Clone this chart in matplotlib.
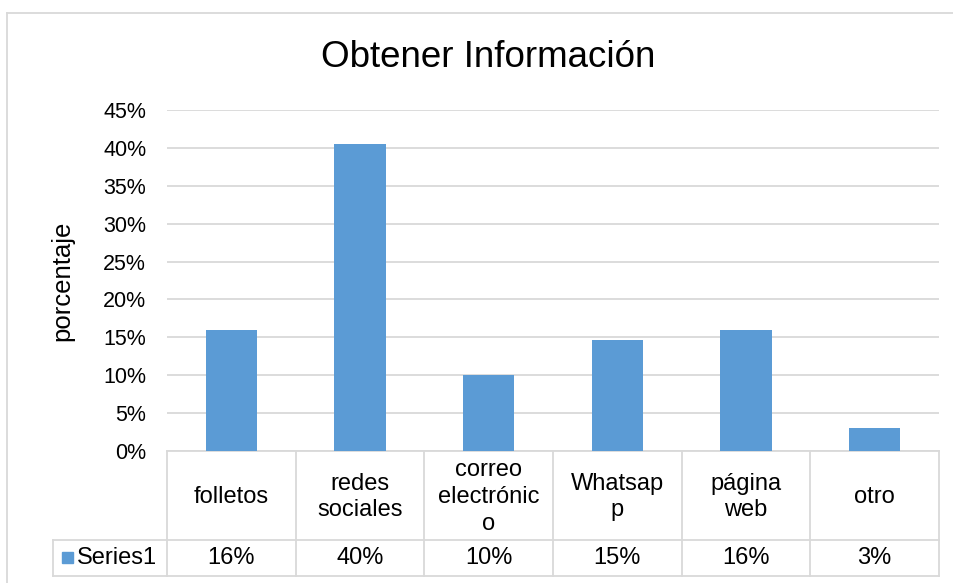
import matplotlib.pyplot as plt
from matplotlib.lines import Line2D
from matplotlib.patches import Rectangle
import matplotlib.transforms as mtransforms

plt.rcParams["font.family"] = ["Liberation Sans", "DejaVu Sans"]

# --- data ---
categorias = ["folletos", "redes\nsociales", "correo\nelectrónic\no",
              "Whatsap\np", "página\nweb", "otro"]
valores = [0.16, 0.405, 0.10, 0.146, 0.16, 0.03]
serie = "Series1"
titulo = "Obtener Información"
ylabel = "porcentaje"
yticks = [0, 0.05, 0.10, 0.15, 0.20, 0.25, 0.30, 0.35, 0.40, 0.45]

W, H = 954, 583
BLUE = "#5B9BD5"
GRID = "#D9D9D9"


def fx(px):
    return px / W


def fy(py):
    return 1 - py / H


fig = plt.figure(figsize=(W / 100, H / 100), dpi=100)
ax = fig.add_axes([fx(167), fy(451), fx(939) - fx(167), fy(110) - fy(451)])

n = len(categorias)
xs = list(range(n))
ax.bar(xs, valores, width=0.4, color=BLUE, zorder=3)
ax.set_xlim(-0.5, n - 0.5)
ax.set_ylim(0, 0.45)
ax.set_yticks(yticks)
ax.set_yticklabels([f"{round(t * 100)}%" for t in yticks], fontsize=15.5)
ax.set_xticks([])
ax.tick_params(axis="y", length=0, pad=15)
ax.grid(axis="y", color=GRID, linewidth=1.3, zorder=0)
for s in ["top", "right", "left"]:
    ax.spines[s].set_visible(False)
ax.spines["bottom"].set_color(GRID)
ax.spines["bottom"].set_linewidth(1.3)

fig.text(fx(62), fy(281), ylabel, rotation=90, fontsize=18.5,
         ha="center", va="center")
fig.text(fx(488), fy(67), titulo, fontsize=26.5, ha="center", va="baseline")

# --- data table under the axis ---
tr = mtransforms.blended_transform_factory(ax.transData, fig.transFigure)
y_top, y_mid, y_bot = fy(451), fy(540), fy(576)
for i in range(n + 1):
    fig.add_artist(Line2D([i - 0.5, i - 0.5], [y_top, y_bot], transform=tr,
                          color=GRID, lw=1.3))
for yy in (y_mid, y_bot):
    fig.add_artist(Line2D([fx(53), fx(939)], [yy, yy],
                          transform=fig.transFigure, color=GRID, lw=1.3))
fig.add_artist(Line2D([fx(53), fx(53)], [y_mid, y_bot],
                      transform=fig.transFigure, color=GRID, lw=1.3))

for i, (cat, v) in enumerate(zip(categorias, valores)):
    fig.text(i, fy(497), cat, transform=tr, fontsize=17, ha="center",
             va="center", linespacing=1.27)
    fig.text(i, fy(558), f"{round(v * 100)}%", transform=tr, fontsize=17,
             ha="center", va="center")

fig.add_artist(Rectangle((fx(62), fy(563)), fx(11), fy(552) - fy(563),
                         transform=fig.transFigure, color=BLUE))
fig.text(fx(77), fy(558), serie, fontsize=17, ha="left", va="center")

# outer chart border
fig.add_artist(Line2D([fx(7), fx(7)], [fy(13), 0], transform=fig.transFigure,
                      color=GRID, lw=1.3))
fig.add_artist(Line2D([fx(7), 1], [fy(13), fy(13)], transform=fig.transFigure,
                      color=GRID, lw=1.3))

fig.savefig("out.png", dpi=100)
